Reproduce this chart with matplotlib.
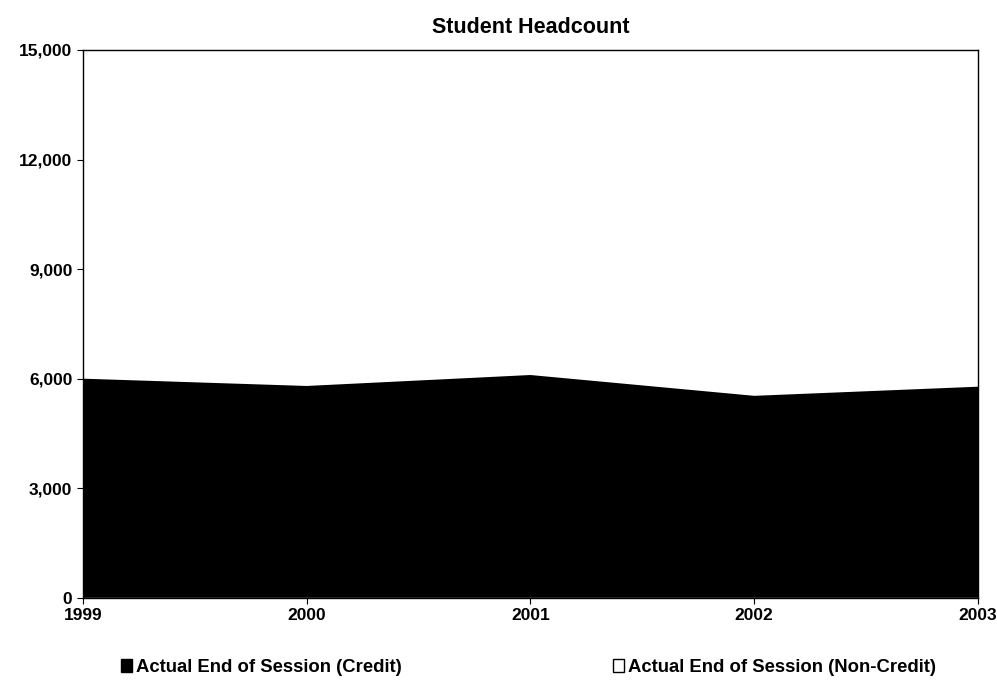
import matplotlib.pyplot as plt
from matplotlib.patches import Patch

plt.rcParams['font.family'] = ['Liberation Sans', 'DejaVu Sans']
plt.rcParams['font.weight'] = 'bold'

years = [1999, 2000, 2001, 2002, 2003]
credit = [6000, 5800, 6100, 5530, 5780]
non_credit = [0, 0, 0, 0, 0]  # drawn white, not readable from the picture
yticks = [0, 3000, 6000, 9000, 12000, 15000]

fig = plt.figure(figsize=(9.97, 6.84), dpi=100)
ax = fig.add_axes([0.083, 0.126, 0.898, 0.801])

ax.stackplot(years, credit, non_credit, colors=['black', 'white'])
ax.set_xlim(1999, 2003)
ax.set_ylim(0, 15000)
ax.set_xticks(years)
ax.set_yticks(yticks)
ax.set_yticklabels([f"{v:,}" for v in yticks])
ax.tick_params(labelsize=12.5, direction='out', length=4)
for s in ax.spines.values():
    s.set_linewidth(1)
ax.set_title("Student Headcount", fontsize=15.5, fontweight='bold', pad=12)

h1 = Patch(facecolor='black', edgecolor='black', label='Actual End of Session (Credit)')
h2 = Patch(facecolor='white', edgecolor='black', label='Actual End of Session (Non-Credit)')
fig.legend(handles=[h1], loc='center left', bbox_to_anchor=(0.105, 0.024),
           frameon=False, fontsize=13.3, handlelength=0.6, handletextpad=0.2)
fig.legend(handles=[h2], loc='center right', bbox_to_anchor=(0.955, 0.024),
           frameon=False, fontsize=13.3, handlelength=0.6, handletextpad=0.2)

plt.savefig("out.png")
